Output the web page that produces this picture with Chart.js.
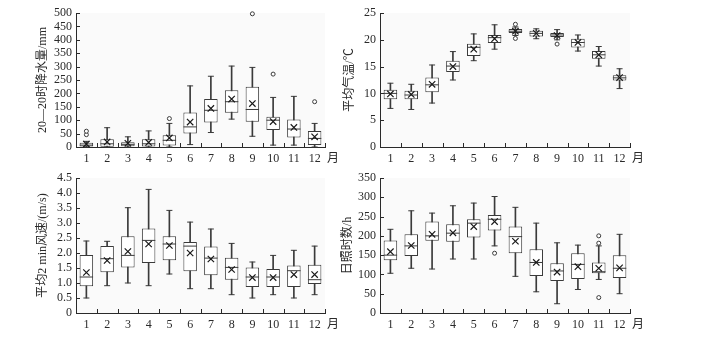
<!DOCTYPE html>
<html>
<head>
<meta charset="utf-8">
<script src="https://cdn.jsdelivr.net/npm/chart.js@4/dist/chart.umd.min.js"></script>
<style>
html,body{margin:0;padding:0;background:#fff;}
body{width:711px;height:338px;position:relative;overflow:hidden;}
canvas{position:absolute;}
</style>
</head>
<body>
<canvas id="c1" width="345" height="170" style="left:0;top:0"></canvas>
<canvas id="c2" width="376" height="170" style="left:335px;top:0"></canvas>
<canvas id="c3" width="345" height="173" style="left:0;top:165px"></canvas>
<canvas id="c4" width="376" height="173" style="left:335px;top:165px"></canvas>
<script>
// ---------- data ----------
const months = ['1','2','3','4','5','6','7','8','9','10','11','12'];

// 20-20时降水量/mm
const precipMin  = [0, 0, 0, 0, 0, 9, 54, 104, 40, 7, 7, 0];
const precipQ1   = [2, 1, 3, 2, 6, 50, 91, 128, 94, 63, 35, 7];
const precipMed  = [7, 12, 10, 12, 25, 75, 137, 169, 140, 100, 67, 32];
const precipQ3   = [16, 29, 18, 29, 44, 129, 179, 212, 225, 113, 103, 60];
const precipMax  = [21, 72, 38, 60, 88, 228, 264, 302, 297, 185, 189, 88];
const precipMean = [11, 19, 14, 17, 34, 93, 144, 179, 162, 95, 73, 38];
const precipOut  = [[46,59],[],[],[],[106],[],[],[],[497],[272],[],[169]];
const precipTicks = ['0','50','100','150','200','250','300','350','400','450','500'];

// 平均气温/℃
const tempMin  = [7.2, 7.0, 8.2, 12.5, 16.1, 18.25, 20.8, 20.2, 20.0, 17.9, 15.1, 10.9];
const tempQ1   = [8.9, 8.9, 10.2, 14.0, 17.0, 19.4, 21.25, 20.6, 20.5, 18.55, 16.45, 12.4];
const tempMed  = [10.0, 9.7, 11.6, 15.1, 18.6, 20.4, 21.6, 21.2, 20.9, 19.5, 17.2, 12.9];
const tempQ3   = [10.7, 10.5, 12.95, 16.1, 19.25, 20.9, 22.0, 21.7, 21.25, 20.2, 17.9, 13.4];
const tempMax  = [11.9, 11.7, 15.3, 17.8, 21.1, 22.8, 22.4, 22.05, 21.9, 20.9, 18.75, 14.6];
const tempMean = [9.9, 9.8, 11.7, 15.0, 18.25, 20.2, 21.6, 21.2, 20.8, 19.5, 17.2, 12.95];
const tempOut  = [[],[],[],[],[],[],[22.9,20.25],[],[19.2],[],[],[]];
const tempTicks = ['0','5','10','15','20','25'];

// 平均2 min风速/(m/s)
const windMin  = [0.5, 0.91, 1.0, 0.91, 1.3, 0.81, 0.81, 0.61, 0.5, 0.61, 0.5, 0.61];
const windQ1   = [0.89, 1.36, 1.52, 1.67, 1.76, 1.39, 1.26, 1.11, 0.87, 0.87, 0.87, 0.97];
const windMed  = [1.2, 1.81, 1.92, 2.42, 2.3, 2.23, 1.83, 1.52, 1.2, 1.2, 1.41, 1.11];
const windQ3   = [1.93, 2.23, 2.56, 2.82, 2.56, 2.37, 2.22, 1.84, 1.52, 1.47, 1.58, 1.61];
const windMax  = [2.4, 2.39, 3.51, 4.12, 3.42, 3.03, 2.8, 2.32, 1.7, 1.92, 2.09, 2.23];
const windMean = [1.35, 1.75, 2.05, 2.3, 2.25, 2.0, 1.8, 1.45, 1.18, 1.18, 1.28, 1.28];
const windOut  = [[],[],[],[],[],[],[],[],[],[],[],[]];
const windTicks = ['0','0.5','1.0','1.5','2.0','2.5','3.0','3.5','4.0','4.5'];

// 日照时数/h
const sunMin  = [103, 116, 114, 140, 140, 174, 95, 55, 24, 61, 87, 50];
const sunQ1   = [137, 148, 187, 185, 196, 214, 155, 96, 83, 88, 103, 91];
const sunMed  = [150, 174, 200, 207, 233, 243, 198, 131, 109, 126, 107, 116];
const sunQ3   = [188, 204, 237, 230, 243, 254, 224, 165, 129, 155, 131, 150];
const sunMax  = [217, 265, 259, 278, 285, 302, 274, 233, 182, 176, 174, 204];
const sunMean = [159, 175, 204, 208, 224, 237, 186, 131, 106, 120, 116, 117];
const sunOut  = [[],[],[],[],[],[155],[],[],[],[],[181,200,40],[]];
const sunTicks = ['0','50','100','150','200','250','300','350'];

// ---------- drawing ----------
const FONT = "'Liberation Serif','Noto Sans CJK SC',serif";
const INK = '#2a2a2a';

const insideTicks = {
  id: 'insideTicks',
  beforeDraw(chart) {
    const a = chart.chartArea, ctx = chart.ctx;
    ctx.save();
    ctx.fillStyle = '#fafafa';
    ctx.fillRect(a.left, a.top, a.right - a.left, a.bottom - a.top);
    ctx.restore();
  },
  afterDraw(chart) {
    const ctx = chart.ctx, xs = chart.scales.x, ys = chart.scales.y;
    ctx.save();
    ctx.strokeStyle = INK; ctx.lineWidth = 1;
    ctx.beginPath();
    ys.ticks.forEach((t, i) => {
      const py = Math.round(ys.getPixelForTick(i)) + 0.5;
      ctx.moveTo(ys.right, py); ctx.lineTo(ys.right + 4, py);
    });
    for (let i = 0; i <= months.length; i++) {
      const px = Math.round(xs.getPixelForValue(i - 0.5)) + 0.5;
      ctx.moveTo(px, xs.top); ctx.lineTo(px, xs.top - 4);
    }
    ctx.stroke();
    ctx.fillStyle = INK;
    ctx.font = '12px ' + FONT;
    ctx.textBaseline = 'middle';
    ctx.textAlign = 'left';
    ctx.fillText('月', xs.right + 2, xs.top + 12);
    ctx.restore();
  }
};

function makeChart(id, s) {
  const boxes = months.map((m, i) => [s.q1[i], s.q3[i]]);
  const whisk = months.map((m, i) => [s.min[i], s.max[i]]);
  const meds = months.map((m, i) => ({x: m, y: s.med[i]}));
  const means = months.map((m, i) => ({x: m, y: s.mean[i]}));
  const caps = [];
  months.forEach((m, i) => { caps.push({x: m, y: s.min[i]}); caps.push({x: m, y: s.max[i]}); });
  const outs = [];
  months.forEach((m, i) => s.out[i].forEach(v => outs.push({x: m, y: v})));

  return new Chart(document.getElementById(id), {
    data: {
      labels: months,
      datasets: [
        {type: 'bar', data: whisk, grouped: false, barThickness: 1, backgroundColor: '#3a3a3a', borderWidth: 0, order: 6},
        {type: 'bar', data: boxes, grouped: false, barPercentage: 0.65, categoryPercentage: 1,
         backgroundColor: '#ffffff', borderColor: '#3a3a3a', borderWidth: 1, borderSkipped: false, order: 5},
        {type: 'line', data: caps, showLine: false, pointStyle: 'line', pointRadius: 3,
         pointBorderColor: '#3a3a3a', pointBorderWidth: 1, order: 4, clip: false},
        {type: 'line', data: meds, showLine: false, pointStyle: 'line', pointRadius: 6.7,
         pointBorderColor: '#3a3a3a', pointBorderWidth: 1, order: 3, clip: false},
        {type: 'line', data: means, showLine: false, pointStyle: 'crossRot', pointRadius: 4.5,
         pointBorderColor: '#1a1a1a', pointBorderWidth: 1.2, order: 2, clip: false},
        {type: 'line', data: outs, showLine: false, pointStyle: 'circle', pointRadius: 2,
         pointBackgroundColor: '#ffffff', pointBorderColor: '#3a3a3a', pointBorderWidth: 1, order: 1, clip: false}
      ]
    },
    options: {
      responsive: false,
      devicePixelRatio: 1,
      animation: false,
      events: [],
      layout: {padding: s.pad},
      plugins: {legend: {display: false}, tooltip: {enabled: false}},
      scales: {
        x: {
          type: 'category', offset: true,
          grid: {display: false, drawTicks: false, offset: true},
          border: {display: true, color: INK, width: 1},
          ticks: {color: INK, font: {family: FONT, size: 12}, padding: 5, maxRotation: 0, autoSkip: false},
          afterFit: sc => { sc.height = s.xh; }
        },
        y: {
          type: 'linear', min: s.ymin, max: s.ymax,
          grid: {display: false, drawTicks: false},
          border: {display: true, color: INK, width: 1},
          ticks: {stepSize: s.step, autoSkip: false, color: INK, font: {family: FONT, size: 12}, padding: 4,
                  callback: (v, i) => s.ticks[i]},
          title: {display: true, text: s.title, color: INK, font: {family: FONT, size: 12}, padding: {top: 4, bottom: 4}},
          afterFit: sc => { sc.width = s.yw; }
        }
      }
    },
    plugins: [insideTicks]
  });
}

makeChart('c1', {min: precipMin, q1: precipQ1, med: precipMed, q3: precipQ3, max: precipMax, mean: precipMean, out: precipOut,
  ticks: precipTicks, ymin: 0, ymax: 500, step: 50, title: '20—20时降水量/mm',
  pad: {left: 32, top: 13, right: 20, bottom: 0}, yw: 44, xh: 23});
makeChart('c2', {min: tempMin, q1: tempQ1, med: tempMed, q3: tempQ3, max: tempMax, mean: tempMean, out: tempOut,
  ticks: tempTicks, ymin: 0, ymax: 25, step: 5, title: '平均气温/℃',
  pad: {left: 4, top: 13, right: 81, bottom: 0}, yw: 41, xh: 23});
makeChart('c3', {min: windMin, q1: windQ1, med: windMed, q3: windQ3, max: windMax, mean: windMean, out: windOut,
  ticks: windTicks, ymin: 0, ymax: 4.5, step: 0.5, title: '平均2 min风速/(m/s)',
  pad: {left: 32, top: 13, right: 20, bottom: 0}, yw: 44, xh: 25});
makeChart('c4', {min: sunMin, q1: sunQ1, med: sunMed, q3: sunQ3, max: sunMax, mean: sunMean, out: sunOut,
  ticks: sunTicks, ymin: 0, ymax: 350, step: 50, title: '日照时数/h',
  pad: {left: 2, top: 13, right: 81, bottom: 0}, yw: 43, xh: 25});
</script>
</body>
</html>
